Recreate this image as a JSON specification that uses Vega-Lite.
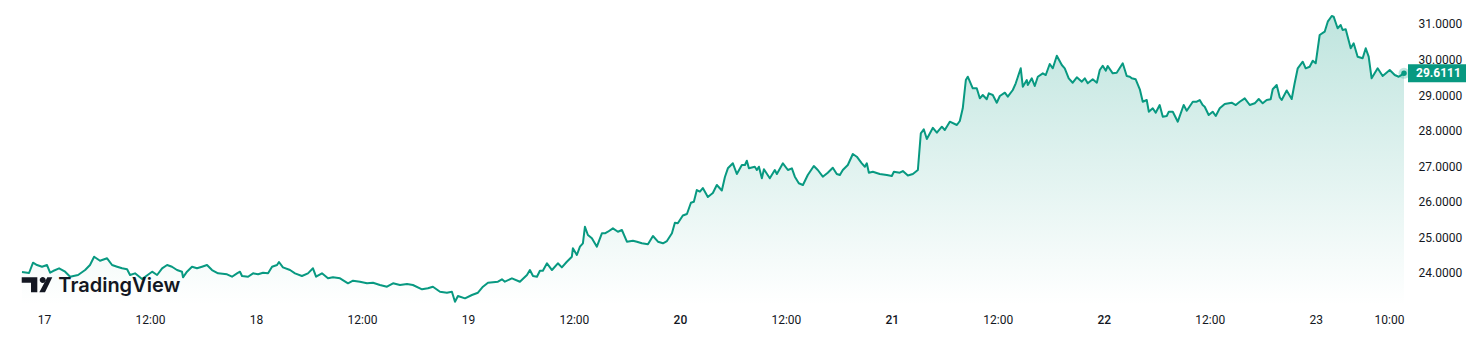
{
"$schema":"https://vega.github.io/schema/vega-lite/v6.json",
"width":1382,"height":305,
"autosize":{"type":"none"},
"padding":{"left":22,"top":0,"right":76,"bottom":57},
"background":"#ffffff",
"config":{"view":{"stroke":null},"font":"Roboto"},
"datasets":{
"price":[
{"t":"2024-06-16T21:30","v":24.014},{"t":"2024-06-16T22:18","v":23.986},{"t":"2024-06-16T22:45","v":24.276},{"t":"2024-06-16T23:12","v":24.211},{"t":"2024-06-16T23:46","v":24.163},
{"t":"2024-06-17T00:20","v":24.211},{"t":"2024-06-17T00:41","v":23.994},{"t":"2024-06-17T01:01","v":24.042},{"t":"2024-06-17T01:42","v":24.118},{"t":"2024-06-17T02:23","v":24.023},{"t":"2024-06-17T02:57","v":23.882},{"t":"2024-06-17T03:51","v":23.930},{"t":"2024-06-17T04:39","v":24.070},{"t":"2024-06-17T05:12","v":24.211},{"t":"2024-06-17T05:40","v":24.445},{"t":"2024-06-17T06:20","v":24.332},{"t":"2024-06-17T07:08","v":24.400},{"t":"2024-06-17T07:42","v":24.211},{"t":"2024-06-17T08:16","v":24.163},{"t":"2024-06-17T08:50","v":24.118},{"t":"2024-06-17T09:24","v":24.090},{"t":"2024-06-17T09:44","v":23.930},{"t":"2024-06-17T10:18","v":23.977},{"t":"2024-06-17T11:06","v":23.817},{"t":"2024-06-17T12:14","v":24.023},{"t":"2024-06-17T12:48","v":23.930},{"t":"2024-06-17T13:22","v":24.118},{"t":"2024-06-17T13:56","v":24.211},{"t":"2024-06-17T14:29","v":24.163},{"t":"2024-06-17T15:03","v":24.070},{"t":"2024-06-17T15:37","v":24.023},{"t":"2024-06-17T15:44","v":23.865},{"t":"2024-06-17T16:11","v":24.023},{"t":"2024-06-17T16:45","v":24.163},{"t":"2024-06-17T17:19","v":24.118},{"t":"2024-06-17T17:53","v":24.163},{"t":"2024-06-17T18:27","v":24.211},{"t":"2024-06-17T19:01","v":24.070},{"t":"2024-06-17T19:42","v":23.977},{"t":"2024-06-17T20:43","v":23.949},{"t":"2024-06-17T21:17","v":23.882},{"t":"2024-06-17T21:51","v":23.977},{"t":"2024-06-17T22:11","v":24.023},{"t":"2024-06-17T22:25","v":23.901},{"t":"2024-06-17T23:06","v":23.882},{"t":"2024-06-17T23:40","v":23.977},
{"t":"2024-06-18T00:14","v":23.949},{"t":"2024-06-18T00:48","v":23.994},{"t":"2024-06-18T01:22","v":23.977},{"t":"2024-06-18T01:49","v":24.163},{"t":"2024-06-18T02:23","v":24.211},{"t":"2024-06-18T02:36","v":24.296},{"t":"2024-06-18T03:03","v":24.146},{"t":"2024-06-18T03:51","v":24.070},{"t":"2024-06-18T04:25","v":23.977},{"t":"2024-06-18T05:12","v":23.901},{"t":"2024-06-18T05:53","v":23.977},{"t":"2024-06-18T06:27","v":24.118},{"t":"2024-06-18T06:48","v":23.882},{"t":"2024-06-18T07:28","v":23.977},{"t":"2024-06-18T08:09","v":23.837},{"t":"2024-06-18T08:43","v":23.865},{"t":"2024-06-18T09:31","v":23.837},{"t":"2024-06-18T10:25","v":23.696},{"t":"2024-06-18T10:59","v":23.769},{"t":"2024-06-18T11:46","v":23.741},{"t":"2024-06-18T12:34","v":23.696},{"t":"2024-06-18T13:15","v":23.713},{"t":"2024-06-18T14:02","v":23.648},{"t":"2024-06-18T14:50","v":23.600},{"t":"2024-06-18T15:31","v":23.696},{"t":"2024-06-18T16:18","v":23.648},{"t":"2024-06-18T17:06","v":23.676},{"t":"2024-06-18T17:46","v":23.648},{"t":"2024-06-18T18:48","v":23.527},{"t":"2024-06-18T19:28","v":23.555},{"t":"2024-06-18T20:02","v":23.600},{"t":"2024-06-18T20:50","v":23.459},{"t":"2024-06-18T21:37","v":23.431},{"t":"2024-06-18T22:11","v":23.459},{"t":"2024-06-18T22:32","v":23.177},{"t":"2024-06-18T22:52","v":23.338},{"t":"2024-06-18T23:40","v":23.273},
{"t":"2024-06-19T00:27","v":23.366},{"t":"2024-06-19T01:08","v":23.431},{"t":"2024-06-19T01:42","v":23.600},{"t":"2024-06-19T02:16","v":23.713},{"t":"2024-06-19T03:24","v":23.741},{"t":"2024-06-19T03:51","v":23.808},{"t":"2024-06-19T04:11","v":23.741},{"t":"2024-06-19T04:59","v":23.837},{"t":"2024-06-19T05:53","v":23.741},{"t":"2024-06-19T06:41","v":23.930},{"t":"2024-06-19T07:01","v":24.070},{"t":"2024-06-19T07:22","v":23.901},{"t":"2024-06-19T07:49","v":23.882},{"t":"2024-06-19T08:09","v":24.051},{"t":"2024-06-19T08:29","v":24.051},{"t":"2024-06-19T08:57","v":24.259},{"t":"2024-06-19T09:31","v":24.070},{"t":"2024-06-19T10:11","v":24.259},{"t":"2024-06-19T10:38","v":24.146},{"t":"2024-06-19T11:12","v":24.304},{"t":"2024-06-19T11:46","v":24.445},{"t":"2024-06-19T11:53","v":24.682},{"t":"2024-06-19T12:20","v":24.493},{"t":"2024-06-19T12:41","v":24.727},{"t":"2024-06-19T13:01","v":24.823},{"t":"2024-06-19T13:15","v":25.290},{"t":"2024-06-19T13:35","v":25.056},{"t":"2024-06-19T14:02","v":24.963},{"t":"2024-06-19T14:36","v":24.727},{"t":"2024-06-19T15:10","v":25.104},{"t":"2024-06-19T15:31","v":25.104},{"t":"2024-06-19T15:51","v":25.149},{"t":"2024-06-19T16:25","v":25.245},{"t":"2024-06-19T16:59","v":25.149},{"t":"2024-06-19T17:26","v":25.197},{"t":"2024-06-19T18:00","v":24.868},{"t":"2024-06-19T18:41","v":24.896},{"t":"2024-06-19T19:08","v":24.868},{"t":"2024-06-19T19:42","v":24.823},{"t":"2024-06-19T20:23","v":24.794},{"t":"2024-06-19T20:57","v":25.028},{"t":"2024-06-19T21:31","v":24.868},{"t":"2024-06-19T22:05","v":24.823},{"t":"2024-06-19T22:32","v":24.887},{"t":"2024-06-19T23:06","v":25.104},{"t":"2024-06-19T23:26","v":25.403},{"t":"2024-06-19T23:46","v":25.386},
{"t":"2024-06-20T00:20","v":25.606},{"t":"2024-06-20T00:48","v":25.648},{"t":"2024-06-20T01:15","v":25.966},{"t":"2024-06-20T01:35","v":25.994},{"t":"2024-06-20T01:55","v":26.324},{"t":"2024-06-20T02:16","v":26.276},{"t":"2024-06-20T02:36","v":26.380},{"t":"2024-06-20T03:10","v":26.127},{"t":"2024-06-20T03:44","v":26.239},{"t":"2024-06-20T04:11","v":26.465},{"t":"2024-06-20T04:45","v":26.310},{"t":"2024-06-20T05:06","v":26.690},{"t":"2024-06-20T05:26","v":26.935},{"t":"2024-06-20T06:00","v":27.076},{"t":"2024-06-20T06:27","v":26.775},{"t":"2024-06-20T07:01","v":27.028},{"t":"2024-06-20T07:22","v":27.028},{"t":"2024-06-20T07:35","v":27.149},{"t":"2024-06-20T07:49","v":26.935},{"t":"2024-06-20T08:29","v":26.980},{"t":"2024-06-20T08:43","v":26.887},{"t":"2024-06-20T08:57","v":26.980},{"t":"2024-06-20T09:17","v":26.654},{"t":"2024-06-20T09:31","v":26.907},{"t":"2024-06-20T10:11","v":26.654},{"t":"2024-06-20T10:45","v":26.887},{"t":"2024-06-20T10:59","v":26.775},{"t":"2024-06-20T11:40","v":27.076},{"t":"2024-06-20T12:14","v":26.887},{"t":"2024-06-20T12:41","v":26.935},{"t":"2024-06-20T13:01","v":26.699},{"t":"2024-06-20T13:28","v":26.513},{"t":"2024-06-20T13:56","v":26.465},{"t":"2024-06-20T14:29","v":26.746},{"t":"2024-06-20T15:10","v":27.000},{"t":"2024-06-20T15:37","v":26.887},{"t":"2024-06-20T16:11","v":26.699},{"t":"2024-06-20T16:45","v":26.811},{"t":"2024-06-20T17:19","v":26.952},{"t":"2024-06-20T17:46","v":26.775},{"t":"2024-06-20T18:07","v":26.746},{"t":"2024-06-20T18:27","v":26.887},{"t":"2024-06-20T19:01","v":27.028},{"t":"2024-06-20T19:35","v":27.338},{"t":"2024-06-20T20:02","v":27.262},{"t":"2024-06-20T20:36","v":27.076},{"t":"2024-06-20T20:57","v":26.980},{"t":"2024-06-20T21:10","v":27.076},{"t":"2024-06-20T21:24","v":26.811},{"t":"2024-06-20T21:51","v":26.839},{"t":"2024-06-20T22:38","v":26.775},{"t":"2024-06-20T23:26","v":26.746},
{"t":"2024-06-21T00:00","v":26.718},{"t":"2024-06-21T00:14","v":26.839},{"t":"2024-06-21T00:54","v":26.811},{"t":"2024-06-21T01:15","v":26.859},{"t":"2024-06-21T01:49","v":26.732},{"t":"2024-06-21T02:23","v":26.775},{"t":"2024-06-21T02:57","v":26.887},{"t":"2024-06-21T03:17","v":27.921},{"t":"2024-06-21T03:37","v":28.034},{"t":"2024-06-21T03:58","v":27.761},{"t":"2024-06-21T04:39","v":28.076},{"t":"2024-06-21T05:06","v":27.938},{"t":"2024-06-21T05:40","v":28.107},{"t":"2024-06-21T06:00","v":28.014},{"t":"2024-06-21T06:34","v":28.248},{"t":"2024-06-21T07:22","v":28.155},{"t":"2024-06-21T07:42","v":28.268},{"t":"2024-06-21T08:02","v":28.625},{"t":"2024-06-21T08:23","v":29.423},{"t":"2024-06-21T08:36","v":29.515},{"t":"2024-06-21T09:10","v":29.189},{"t":"2024-06-21T09:37","v":29.189},{"t":"2024-06-21T09:58","v":28.907},{"t":"2024-06-21T10:18","v":29.000},{"t":"2024-06-21T10:45","v":28.879},{"t":"2024-06-21T10:59","v":29.048},{"t":"2024-06-21T11:26","v":29.000},{"t":"2024-06-21T11:53","v":28.783},{"t":"2024-06-21T12:14","v":28.972},{"t":"2024-06-21T12:48","v":29.065},{"t":"2024-06-21T13:08","v":28.952},{"t":"2024-06-21T13:42","v":29.141},{"t":"2024-06-21T14:02","v":29.330},{"t":"2024-06-21T14:36","v":29.752},{"t":"2024-06-21T14:50","v":29.234},{"t":"2024-06-21T15:17","v":29.423},{"t":"2024-06-21T15:24","v":29.282},{"t":"2024-06-21T15:51","v":29.470},{"t":"2024-06-21T16:11","v":29.254},{"t":"2024-06-21T16:32","v":29.515},{"t":"2024-06-21T17:06","v":29.611},{"t":"2024-06-21T17:26","v":29.563},{"t":"2024-06-21T17:53","v":29.873},{"t":"2024-06-21T18:14","v":29.752},{"t":"2024-06-21T18:41","v":30.107},{"t":"2024-06-21T19:15","v":29.845},{"t":"2024-06-21T19:35","v":29.752},{"t":"2024-06-21T20:02","v":29.470},{"t":"2024-06-21T20:29","v":29.346},{"t":"2024-06-21T20:57","v":29.499},{"t":"2024-06-21T21:31","v":29.375},{"t":"2024-06-21T21:51","v":29.470},{"t":"2024-06-21T22:11","v":29.330},{"t":"2024-06-21T22:45","v":29.442},{"t":"2024-06-21T23:13","v":29.346},{"t":"2024-06-21T23:33","v":29.704},{"t":"2024-06-21T23:53","v":29.825},
{"t":"2024-06-22T00:14","v":29.685},{"t":"2024-06-22T00:27","v":29.817},{"t":"2024-06-22T01:01","v":29.611},{"t":"2024-06-22T01:28","v":29.628},{"t":"2024-06-22T02:09","v":29.893},{"t":"2024-06-22T02:36","v":29.535},{"t":"2024-06-22T02:57","v":29.515},{"t":"2024-06-22T03:10","v":29.470},{"t":"2024-06-22T03:37","v":29.442},{"t":"2024-06-22T04:05","v":29.161},{"t":"2024-06-22T04:25","v":28.811},{"t":"2024-06-22T04:52","v":28.859},{"t":"2024-06-22T05:06","v":28.530},{"t":"2024-06-22T05:33","v":28.625},{"t":"2024-06-22T05:53","v":28.501},{"t":"2024-06-22T06:20","v":28.718},{"t":"2024-06-22T06:41","v":28.389},{"t":"2024-06-22T07:08","v":28.408},{"t":"2024-06-22T07:22","v":28.530},{"t":"2024-06-22T07:49","v":28.530},{"t":"2024-06-22T08:23","v":28.248},{"t":"2024-06-22T09:03","v":28.718},{"t":"2024-06-22T09:24","v":28.558},{"t":"2024-06-22T10:05","v":28.811},{"t":"2024-06-22T10:32","v":28.811},{"t":"2024-06-22T10:52","v":28.859},{"t":"2024-06-22T11:12","v":28.718},{"t":"2024-06-22T11:26","v":28.670},{"t":"2024-06-22T11:53","v":28.437},{"t":"2024-06-22T12:20","v":28.530},{"t":"2024-06-22T12:41","v":28.408},{"t":"2024-06-22T13:08","v":28.625},{"t":"2024-06-22T13:42","v":28.746},{"t":"2024-06-22T14:29","v":28.783},{"t":"2024-06-22T14:57","v":28.718},{"t":"2024-06-22T15:24","v":28.811},{"t":"2024-06-22T15:58","v":28.907},{"t":"2024-06-22T16:32","v":28.718},{"t":"2024-06-22T17:06","v":28.766},{"t":"2024-06-22T17:33","v":28.887},{"t":"2024-06-22T18:00","v":28.766},{"t":"2024-06-22T18:27","v":28.859},{"t":"2024-06-22T18:54","v":28.879},{"t":"2024-06-22T19:08","v":29.161},{"t":"2024-06-22T19:35","v":29.282},{"t":"2024-06-22T19:56","v":28.930},{"t":"2024-06-22T20:09","v":28.859},{"t":"2024-06-22T20:43","v":29.127},{"t":"2024-06-22T21:17","v":28.887},{"t":"2024-06-22T21:37","v":29.330},{"t":"2024-06-22T21:58","v":29.752},{"t":"2024-06-22T22:32","v":29.938},{"t":"2024-06-22T22:52","v":29.752},{"t":"2024-06-22T23:19","v":29.797},{"t":"2024-06-22T23:40","v":29.966},
{"t":"2024-06-23T00:00","v":29.893},{"t":"2024-06-23T00:27","v":30.690},{"t":"2024-06-23T01:01","v":30.783},{"t":"2024-06-23T01:22","v":31.065},{"t":"2024-06-23T01:49","v":31.225},{"t":"2024-06-23T02:02","v":31.206},{"t":"2024-06-23T02:29","v":30.879},{"t":"2024-06-23T02:50","v":30.972},{"t":"2024-06-23T03:03","v":30.831},{"t":"2024-06-23T03:24","v":30.851},{"t":"2024-06-23T03:58","v":30.315},{"t":"2024-06-23T04:18","v":30.456},{"t":"2024-06-23T04:45","v":30.079},{"t":"2024-06-23T05:19","v":30.034},{"t":"2024-06-23T05:40","v":30.315},{"t":"2024-06-23T06:00","v":30.079},{"t":"2024-06-23T06:20","v":29.470},{"t":"2024-06-23T07:01","v":29.752},{"t":"2024-06-23T07:35","v":29.535},{"t":"2024-06-23T08:23","v":29.704},{"t":"2024-06-23T08:57","v":29.563},{"t":"2024-06-23T09:24","v":29.515},{"t":"2024-06-23T10:00","v":29.6111}
],
"last":[{"t":"2024-06-23T10:00","v":29.6111,"label":"29.6111"}],
"logo":[{"t":"2024-06-16T23:12","v":23.654}],
"brand":[{"t":"2024-06-17T01:37","v":23.45,"label":"TradingView"}]
},
"encoding":{
"x":{"field":"t","type":"temporal",
 "scale":{"domain":[{"year":2024,"month":6,"date":16,"hours":21,"minutes":30},{"year":2024,"month":6,"date":23,"hours":10}]},
 "axis":{"title":null,"domain":false,"ticks":false,"grid":false,"labelPadding":9,"labelFontSize":12,"labelColor":"#131722","labelFont":"Roboto","labelOverlap":false,"labelFlush":false,
  "values":[{"year":2024,"month":6,"date":17,"hours":0},{"year":2024,"month":6,"date":17,"hours":12},{"year":2024,"month":6,"date":18,"hours":0},{"year":2024,"month":6,"date":18,"hours":12},{"year":2024,"month":6,"date":19,"hours":0},{"year":2024,"month":6,"date":19,"hours":12},{"year":2024,"month":6,"date":20,"hours":0},{"year":2024,"month":6,"date":20,"hours":12},{"year":2024,"month":6,"date":21,"hours":0},{"year":2024,"month":6,"date":21,"hours":12},{"year":2024,"month":6,"date":22,"hours":0},{"year":2024,"month":6,"date":22,"hours":12},{"year":2024,"month":6,"date":23,"hours":0},{"year":2024,"month":6,"date":23,"hours":10}],
  "labelExpr":"hours(datum.value)==0 ? ''+date(datum.value) : timeFormat(datum.value,'%H:%M')",
  "labelAlign":{"condition":{"test":"hours(datum.value)==10","value":"right"},"value":"center"},
  "labelFontWeight":{"condition":{"test":"hours(datum.value)==0 && date(datum.value)>=20 && date(datum.value)<=22","value":500},"value":"normal"}
 }},
"y":{"field":"v","type":"quantitative",
 "scale":{"domain":[23.085,31.676],"nice":false,"zero":false},
 "axis":{"title":null,"orient":"right","domain":false,"ticks":false,"grid":false,"values":[24,25,26,27,28,29,30,31],"format":".4f","labelPadding":14,"labelAlign":"left","labelBaseline":"middle","labelFontSize":12,"labelColor":"#131722","labelFont":"Roboto"}}
},
"layer":[
{"data":{"name":"price"},"mark":{"type":"area","color":{"gradient":"linear","x1":0,"y1":0,"x2":0,"y2":1,"stops":[{"offset":0,"color":"rgba(8,153,129,0.26)"},{"offset":1,"color":"rgba(8,153,129,0.0)"}]}},"encoding":{"y2":{"datum":23.085}}},
{"data":{"name":"price"},"mark":{"type":"line","color":"#089981","strokeWidth":2,"strokeJoin":"round"}},
{"data":{"name":"last"},"mark":{"type":"point","shape":"circle","filled":true,"size":120,"color":"#089981","opacity":0.25}},
{"data":{"name":"last"},"mark":{"type":"point","shape":"circle","filled":true,"size":30,"color":"#089981","opacity":1}},
{"data":{"name":"last"},"mark":{"type":"point","shape":"M-1,-0.31H1V0.31H-1Z","filled":true,"size":3364,"color":"#089981","opacity":1,"xOffset":33}},
{"data":{"name":"last"},"mark":{"type":"text","align":"left","baseline":"middle","dx":12,"fontWeight":"bold","fontSize":12,"font":"Roboto","color":"#ffffff"},"encoding":{"text":{"field":"label"}}},
{"data":{"name":"logo"},"mark":{"type":"point","shape":"M-0.956,-0.469H0.019V0.469H-0.375V-0.131H-0.956Z M0.169,-0.3A0.1875,0.1875 0 1,0 0.544,-0.3A0.1875,0.1875 0 1,0 0.169,-0.3Z M0.644,-0.469H0.956L0.5,0.469H0.144Z","filled":true,"size":1024,"color":"#131722","opacity":1}},
{"data":{"name":"brand"},"mark":{"type":"text","align":"left","baseline":"alphabetic","fontSize":20,"fontWeight":600,"font":"Inter","color":"#131722"},"encoding":{"text":{"field":"label"}}}
]
}
